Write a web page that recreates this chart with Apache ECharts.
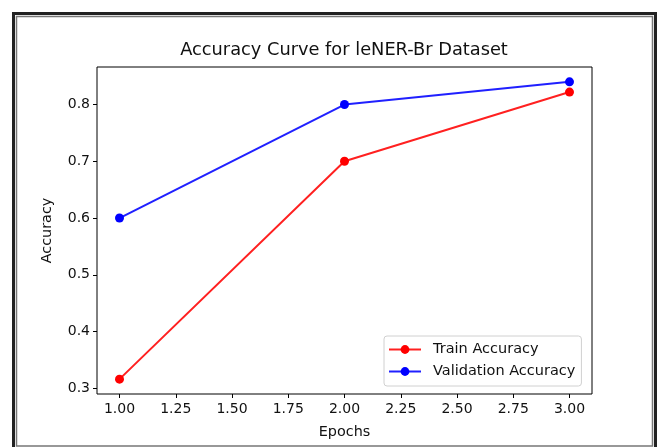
<!DOCTYPE html>
<html><head><meta charset="utf-8">
<script src="https://cdn.jsdelivr.net/npm/echarts@6/dist/echarts.min.js"></script>
<style>html,body{margin:0;padding:0;background:#fff}#c{width:658px;height:447px}</style>
</head><body><div id="c"></div>
<script>
const epochs = [1, 2, 3];
const trainAcc = [0.316, 0.70, 0.822];
const valAcc = [0.60, 0.80, 0.84];
const xTicks = [1.00, 1.25, 1.50, 1.75, 2.00, 2.25, 2.50, 2.75, 3.00];
const yTicks = [0.3, 0.4, 0.5, 0.6, 0.7, 0.8];

const font = 'DejaVu Sans';
const chart = echarts.init(document.getElementById('c'), null, {renderer: 'canvas'});
chart.setOption({
  animation: false,
  backgroundColor: '#fff',
  title: {
    text: 'Accuracy Curve for leNER-Br Dataset',
    left: 344, top: 41, textAlign: 'center', padding: 0,
    textStyle: {fontFamily: font, fontSize: 17.8, fontWeight: 'normal', color: '#111'}
  },
  grid: {left: 97, top: 67, width: 495, height: 327, show: true, borderColor: '#000', borderWidth: 1, backgroundColor: 'transparent'},
  xAxis: {
    type: 'value', min: 0.9, max: 3.1,
    name: 'Epochs', nameLocation: 'middle', nameGap: 31,
    nameTextStyle: {fontFamily: font, fontSize: 14.4, color: '#111'},
    axisLine: {show: false},
    splitLine: {show: false},
    axisTick: {show: true, length: 4, inside: false, lineStyle: {color: '#000'}, customValues: xTicks},
    axisLabel: {fontFamily: font, fontSize: 14, color: '#111', margin: 8, customValues: xTicks,
      formatter: v => v.toFixed(2)}
  },
  yAxis: {
    type: 'value', min: 0.2898, max: 0.8662,
    name: 'Accuracy', nameLocation: 'middle', nameGap: 43, nameRotate: 90,
    nameTextStyle: {fontFamily: font, fontSize: 14.4, color: '#111'},
    axisLine: {show: false},
    splitLine: {show: false},
    axisTick: {show: true, length: 4, lineStyle: {color: '#000'}, customValues: yTicks},
    axisLabel: {fontFamily: font, fontSize: 14, color: '#111', margin: 7, customValues: yTicks,
      formatter: v => v.toFixed(1)}
  },
  legend: {
    orient: 'vertical', left: 384, top: 336,
    itemWidth: 32, itemHeight: 11, itemGap: 7,
    padding: [6, 6, 7, 4],
    borderColor: '#d0d0d0', borderWidth: 1, borderRadius: 3,
    backgroundColor: 'rgba(255,255,255,0.8)',
    textStyle: {fontFamily: font, fontSize: 14.5, color: '#111', padding: [0, 0, 0, 7]},
    data: ['Train Accuracy', 'Validation Accuracy']
  },
  series: [
    {name: 'Train Accuracy', type: 'line', data: epochs.map((e, i) => [e, trainAcc[i]]),
     color: '#ff0000', symbol: 'circle', symbolSize: 9, showAllSymbol: true,
     lineStyle: {width: 2, color: '#ff2020'}, itemStyle: {color: '#ff0000'}},
    {name: 'Validation Accuracy', type: 'line', data: epochs.map((e, i) => [e, valAcc[i]]),
     color: '#0000ff', symbol: 'circle', symbolSize: 9, showAllSymbol: true,
     lineStyle: {width: 2, color: '#2020ff'}, itemStyle: {color: '#0000ff'}}
  ],
  graphic: [
    {type: 'polyline', silent: true, shape: {points: [[13.5, 460], [13.5, 13.5], [655.5, 13.5], [655.5, 460]]},
     style: {stroke: '#222', lineWidth: 3, fill: null}},
    {type: 'rect', silent: true, shape: {x: 16.5, y: 16.5, width: 636, height: 429.5},
     style: {stroke: '#777', lineWidth: 1.5, fill: null}}
  ]
});
</script></body></html>
